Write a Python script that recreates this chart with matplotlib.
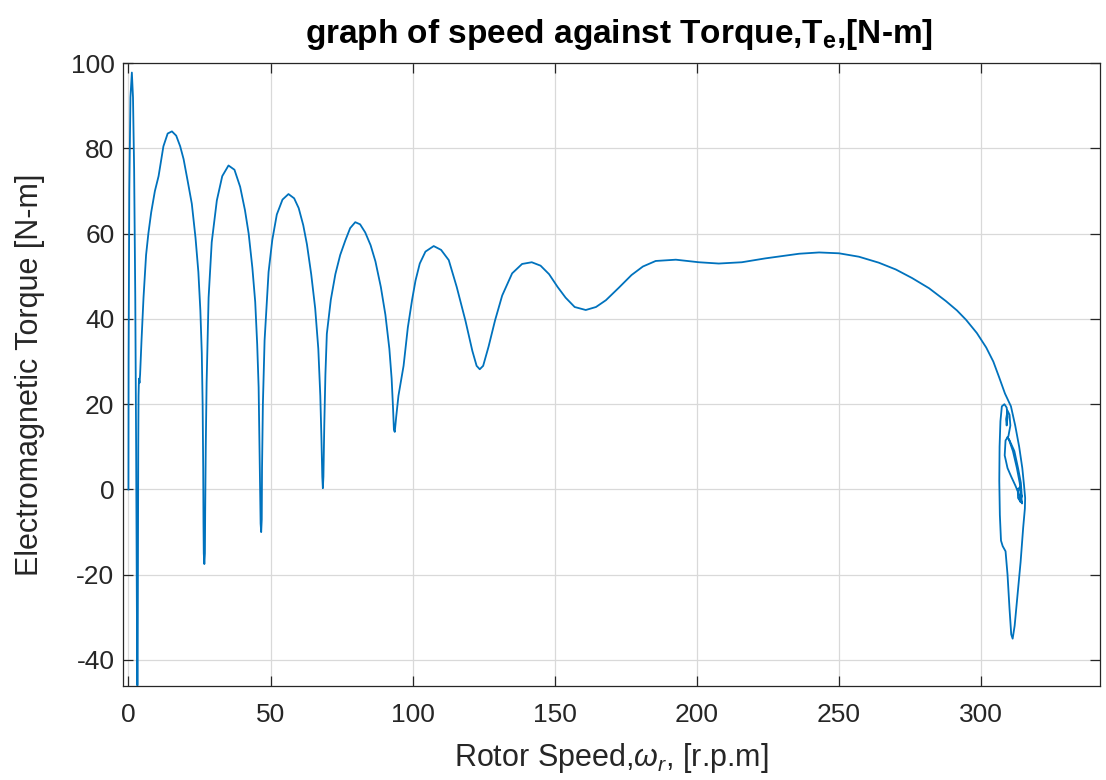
import matplotlib
matplotlib.use("Agg")
import matplotlib.pyplot as plt

# rotor speed [r.p.m] and electromagnetic torque [N-m]
speed = [0, 0.05, 0.3, 0.7, 1.2, 1.6, 2.0, 2.4, 2.7, 2.9, 3.05, 3.15, 3.25, 3.35, 3.45, 3.55, 3.7, 3.9, 4.1,
         4.6, 5.3, 6.2, 7.0, 8.0, 9.3, 10.6, 12.3, 13.8, 15.3, 16.8, 18.2, 19.4, 20.8, 22.3, 23.6, 24.6, 25.3,
         25.8, 26.1, 26.3, 26.4, 26.5, 26.7, 26.9, 27.0, 27.2, 27.5, 28.2, 29.3, 31.1, 33.0, 35.2, 37.3, 39.3,
         41.0, 42.3, 43.6, 44.6, 45.3, 45.8, 46.1, 46.3, 46.5, 46.7, 46.9, 47.0, 47.3, 47.9, 49.3, 50.6, 52.2,
         54.2, 56.3, 58.3, 59.9, 61.5, 62.8, 64.3, 65.7, 66.8, 67.5, 67.9, 68.2, 68.4, 68.6, 68.9, 69.3, 69.8,
         71.2, 72.8, 74.5, 76.3, 78.0, 79.8, 81.5, 83.3, 85.2, 86.9, 88.8, 90.4, 91.8, 92.6, 93.1, 93.4, 93.7,
         94.2, 95.0, 96.8, 98.3, 99.8, 101.0, 102.5, 104.5, 107.4, 110.0, 112.7, 115.5, 118.6, 121.0, 122.5,
         123.6, 124.8, 126.7, 129.0, 131.5, 135.0, 138.5, 141.9, 145.0, 148.0, 151.0, 153.8, 157.0, 160.9,
         164.5, 168.0, 172.5, 177.0, 181.0, 185.5, 192.6, 200.7, 207.7, 215.8, 224.0, 236.0, 243.0, 250.0,
         257.0, 264.0, 270.0, 275.7, 281.7, 287.6, 291.5, 294.7, 298.5, 301.8, 304.3, 306.3, 308.4, 310.5,
         312.0, 313.4, 314.5, 315.1, 315.5, 315.4, 314.8, 313.9, 312.8, 311.8, 311.1, 310.6, 310.0, 309.3,
         308.6, 307.6, 307.0, 306.6, 306.4, 306.5, 306.8, 307.3, 308.2, 309.0, 309.3, 309.0, 308.8, 309.3,
         310.0, 310.3, 309.6, 308.6, 308.3, 309.3, 310.6, 312.0, 313.6, 314.4, 314.2, 313.6, 312.6, 311.2,
         309.9, 309.3, 310.0, 311.7, 313.0, 314.0, 314.3, 313.8, 313.0, 312.9, 313.6, 314.2, 313.9, 313.4]

torque = [0, 30, 70, 92, 97.8, 92, 75, 45, 10, -20, -40, -46, -40, -15, 10, 22, 26, 25, 27,
          35, 45, 55, 60, 65, 70, 73.5, 80.5, 83.5, 84, 83, 80.5, 77.5, 72.5, 67, 59, 51, 42,
          32, 20, 5, -8, -15, -17.5, -15, -5, 10, 25, 45, 58, 67.8, 73.5, 76, 75, 71,
          65.5, 60, 52, 44, 34, 24, 10, 0, -8, -10, -7, 5, 20, 35, 51, 58.5, 64.5,
          68, 69.3, 68.3, 66, 62, 57.5, 50.5, 42.5, 33, 22, 12, 3, 0.3, 3, 15, 27, 36.5,
          44.5, 50.5, 55, 58.4, 61.3, 62.7, 62.2, 60.3, 57.3, 53.5, 47.5, 41, 33, 26, 19, 14, 13.5,
          17, 22, 29, 38, 44.5, 49, 53, 55.8, 57.1, 56.2, 53.8, 47.5, 39.5, 32.5, 29,
          28.2, 29, 33.5, 39.7, 45.5, 50.7, 52.9, 53.3, 52.5, 50.5, 47.5, 45, 42.8, 42.1,
          42.8, 44.4, 47.3, 50.3, 52.3, 53.6, 53.9, 53.3, 53.0, 53.3, 54.2, 55.3, 55.6, 55.4,
          54.6, 53.2, 51.6, 49.6, 47.2, 44.2, 42, 39.8, 36.7, 33.3, 30, 26.4, 22.5, 19.5,
          15, 10, 5, 1, -2, -4.5, -9, -17, -25, -32, -35, -34, -28, -20,
          -14.5, -13.3, -12, -6, 2, 10, 16, 19.5, 20, 19.2, 17, 15, 16.5, 18.5,
          17.5, 15, 12.5, 11.5, 8, 5, 3, 1, -1.5, -3.3, -2, 1.5, 5, 9,
          11.5, 12.3, 11.5, 9, 5, 1.5, -1.5, -2.8, -2, 0, 0.5, -1.5, -3, -2]

xticks = [0, 50, 100, 150, 200, 250, 300]
yticks = [-40, -20, 0, 20, 40, 60, 80, 100]

plt.rcParams['font.family'] = ['Liberation Sans', 'DejaVu Sans']
plt.rcParams['mathtext.fontset'] = 'custom'
plt.rcParams['mathtext.rm'] = 'Liberation Sans'
plt.rcParams['mathtext.it'] = 'Liberation Sans:italic'
plt.rcParams['mathtext.bf'] = 'Liberation Sans:bold'
plt.rcParams['axes.unicode_minus'] = False

fig = plt.figure(figsize=(11.06, 7.8), dpi=100)
ax = fig.add_axes([0.111, 0.12, 0.884, 0.799])

ax.plot(speed, torque, color='#0072BD', linewidth=1.3)

ax.set_xlim(-2, 342)
ax.set_ylim(-46.2, 100)
ax.set_xticks(xticks)
ax.set_yticks(yticks)

ax.grid(True, color='#d9d9d9', linewidth=0.9)
ax.set_axisbelow(True)
ax.tick_params(direction='in', top=True, right=True, length=7, width=0.9,
               labelsize=19, colors='#262626')
ax.tick_params(axis='x', pad=12)
ax.tick_params(axis='y', pad=6)
for s in ax.spines.values():
    s.set_color('#262626')
    s.set_linewidth(0.9)

fig.text(0.56, 1 - 35 / 780, r'graph of speed against Torque,T$_\mathbf{e}$,[N-m]',
         fontsize=24, fontweight='bold', ha='center', va='center')
ax.set_xlabel(r'Rotor Speed,$\omega_r$, [r.p.m]', fontsize=22, color='#262626', va='center')
ax.set_ylabel('Electromagnetic Torque [N-m]', fontsize=22, color='#262626', va='center')
ax.xaxis.set_label_coords(0.5, (686 - 758) / 623)
ax.yaxis.set_label_coords((30 - 123) / 977, 0.5)

fig.savefig('out.png', dpi=100)
